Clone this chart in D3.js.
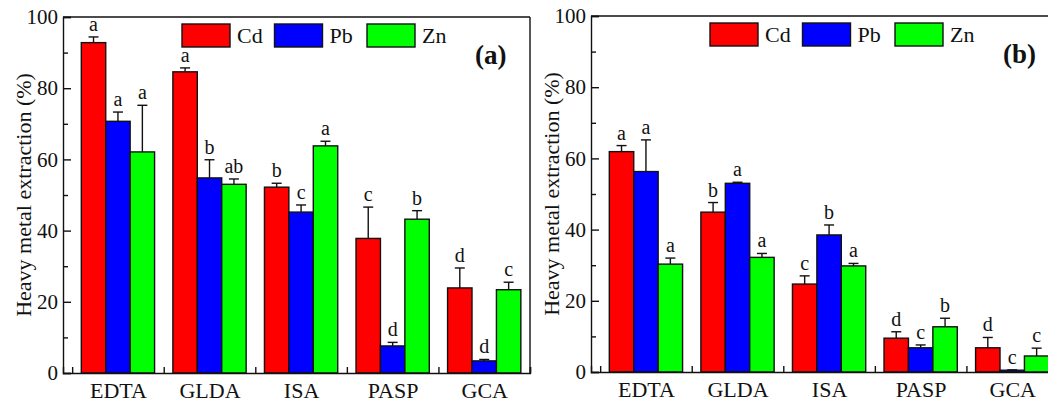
<!DOCTYPE html>
<html>
<head>
    <script src="https://d3js.org/d3.v7.min.js"></script>
    <style>
        body { margin: 0; background: #fff; }
        svg text { font-family: 'Liberation Serif', 'DejaVu Serif', serif !important; fill: #111; }
        .domain, .tick line { stroke: #111; stroke-width: 1.4px; }
        .bar { stroke: #111; stroke-width: 1.4px; }
        .err { stroke: #111; stroke-width: 1.4px; }
    </style>
</head>
<body>
<script>
// categories and series
var categories = ["EDTA", "GLDA", "ISA", "PASP", "GCA"];
var metals = ["Cd", "Pb", "Zn"];
var metalColors = ["#ff0000", "#0000ff", "#00ff00"];
var yTicks = [0, 20, 40, 60, 80, 100];

// panel (a)
var aCd = [92.8, 84.6, 52.2, 37.8, 23.9];
var aPb = [70.7, 54.8, 45.2, 7.6, 3.4];
var aZn = [62.1, 53.0, 63.8, 43.2, 23.4];
var aCdErr = [1.6, 1.1, 1.1, 8.8, 5.6];
var aPbErr = [2.6, 5.1, 2.0, 1.0, 0.4];
var aZnErr = [13.1, 1.5, 1.3, 2.4, 2.1];
var aCdSig = ["a", "a", "b", "c", "d"];
var aPbSig = ["a", "b", "c", "d", "d"];
var aZnSig = ["a", "ab", "a", "b", "c"];

// panel (b)
var bCd = [61.9, 44.9, 24.7, 9.5, 6.8];
var bPb = [56.3, 53.0, 38.5, 6.8, 0.5];
var bZn = [30.3, 32.2, 29.8, 12.7, 4.5];
var bCdErr = [1.7, 2.7, 2.3, 1.8, 2.9];
var bPbErr = [8.9, 0.3, 2.8, 0.8, 0.1];
var bZnErr = [1.7, 1.1, 0.7, 2.4, 2.2];
var bCdSig = ["a", "b", "c", "d", "d"];
var bPbSig = ["a", "a", "b", "c", "c"];
var bZnSig = ["a", "a", "a", "b", "c"];

var W = 1048, H = 405;
var svg = d3.select("body").append("svg")
    .attr("width", W)
    .attr("height", H)
    .attr("font-family", "Liberation Serif");

function drawPanel(left, top, vals, errs, sigs, tag) {
    var pw = 467, ph = 356;
    var g = svg.append("g").attr("transform", "translate(" + left + "," + top + ")");

    var x = d3.scaleLinear().domain([0.4, 5.5]).range([0, pw]);
    var y = d3.scaleLinear().domain([0, 100]).range([ph, 0]);
    var bw = x(1.2667) - x(1);

    // frame top + right
    g.append("line").attr("x1", 0).attr("x2", pw).attr("y1", 0).attr("y2", 0)
        .attr("stroke", "#111").attr("stroke-width", 1.4);
    g.append("line").attr("x1", pw).attr("x2", pw).attr("y1", 0).attr("y2", ph)
        .attr("stroke", "#111").attr("stroke-width", 1.4);

    // bars
    metals.forEach(function(m, k) {
        var data = vals[k].map(function(v, i) {
            return {i: i + 1, v: v, e: errs[k][i], s: sigs[k][i]};
        });
        var cx = function(d) { return x(d.i - 0.4) + bw * (k + 0.5); };

        g.selectAll(".bar-" + m).data(data).enter().append("rect")
            .attr("class", "bar")
            .attr("x", function(d) { return cx(d) - bw / 2; })
            .attr("y", function(d) { return y(d.v); })
            .attr("width", bw)
            .attr("height", function(d) { return y(0) - y(d.v); })
            .attr("fill", metalColors[k]);

        g.selectAll(".errv-" + m).data(data).enter().append("line")
            .attr("class", "err")
            .attr("x1", cx).attr("x2", cx)
            .attr("y1", function(d) { return y(d.v); })
            .attr("y2", function(d) { return y(d.v + d.e); });
        g.selectAll(".errc-" + m).data(data).enter().append("line")
            .attr("class", "err")
            .attr("x1", function(d) { return cx(d) - 5; })
            .attr("x2", function(d) { return cx(d) + 5; })
            .attr("y1", function(d) { return y(d.v + d.e); })
            .attr("y2", function(d) { return y(d.v + d.e); });

        g.selectAll(".sig-" + m).data(data).enter().append("text")
            .attr("x", cx)
            .attr("y", function(d) { return y(d.v + d.e) - 6; })
            .attr("text-anchor", "middle")
            .style("font-size", "20px")
            .text(function(d) { return d.s; });
    });

    // y axis, ticks pointing inward
    g.append("g")
        .call(d3.axisLeft(y).tickValues(yTicks).tickSize(-8).tickPadding(5))
        .call(function(a) { a.selectAll("text").style("font-size", "21px"); });
    g.append("g")
        .call(d3.axisLeft(y).tickValues([10, 30, 50, 70, 90]).tickSize(-5).tickFormat(""))
        .call(function(a) { a.select(".domain").remove(); });

    // x axis
    g.append("g").attr("transform", "translate(0," + ph + ")")
        .call(d3.axisBottom(x).tickValues([0.5, 1.5, 2.5, 3.5, 4.5, 5.5]).tickSize(-6).tickFormat(""));
    g.append("g").attr("transform", "translate(0," + ph + ")")
        .call(d3.axisBottom(x).tickValues([1, 2, 3, 4, 5]).tickSize(0).tickPadding(9)
            .tickFormat(function(d) { return categories[d - 1]; }))
        .call(function(a) {
            a.select(".domain").remove();
            a.selectAll("text").style("font-size", "22px");
        });

    // y title
    g.append("text")
        .attr("transform", "translate(-40," + (ph / 2) + ") rotate(-90)")
        .attr("text-anchor", "middle")
        .attr("dy", "0.35em")
        .style("font-size", "22px")
        .text("Heavy metal extraction (%)");

    // legend
    metals.forEach(function(m, k) {
        var lx = 119 + k * 92.5;
        g.append("rect").attr("class", "bar")
            .attr("x", lx).attr("y", 7).attr("width", 48).attr("height", 23)
            .attr("fill", metalColors[k]);
        g.append("text").attr("x", lx + 55).attr("y", 26)
            .style("font-size", "22px").text(m);
    });

    g.append("text").attr("x", 412).attr("y", 47)
        .style("font-size", "27px").style("font-weight", "bold")
        .text(tag);
}

drawPanel(63, 17, [aCd, aPb, aZn], [aCdErr, aPbErr, aZnErr], [aCdSig, aPbSig, aZnSig], "(a)");
drawPanel(591, 16, [bCd, bPb, bZn], [bCdErr, bPbErr, bZnErr], [bCdSig, bPbSig, bZnSig], "(b)");

// axis groups carry font-family="sans-serif"; force the serif face everywhere
svg.selectAll("g").attr("font-family", null);
svg.selectAll("text").style("font-family", "'Liberation Serif', 'DejaVu Serif', serif");
</script>
</body>
</html>
